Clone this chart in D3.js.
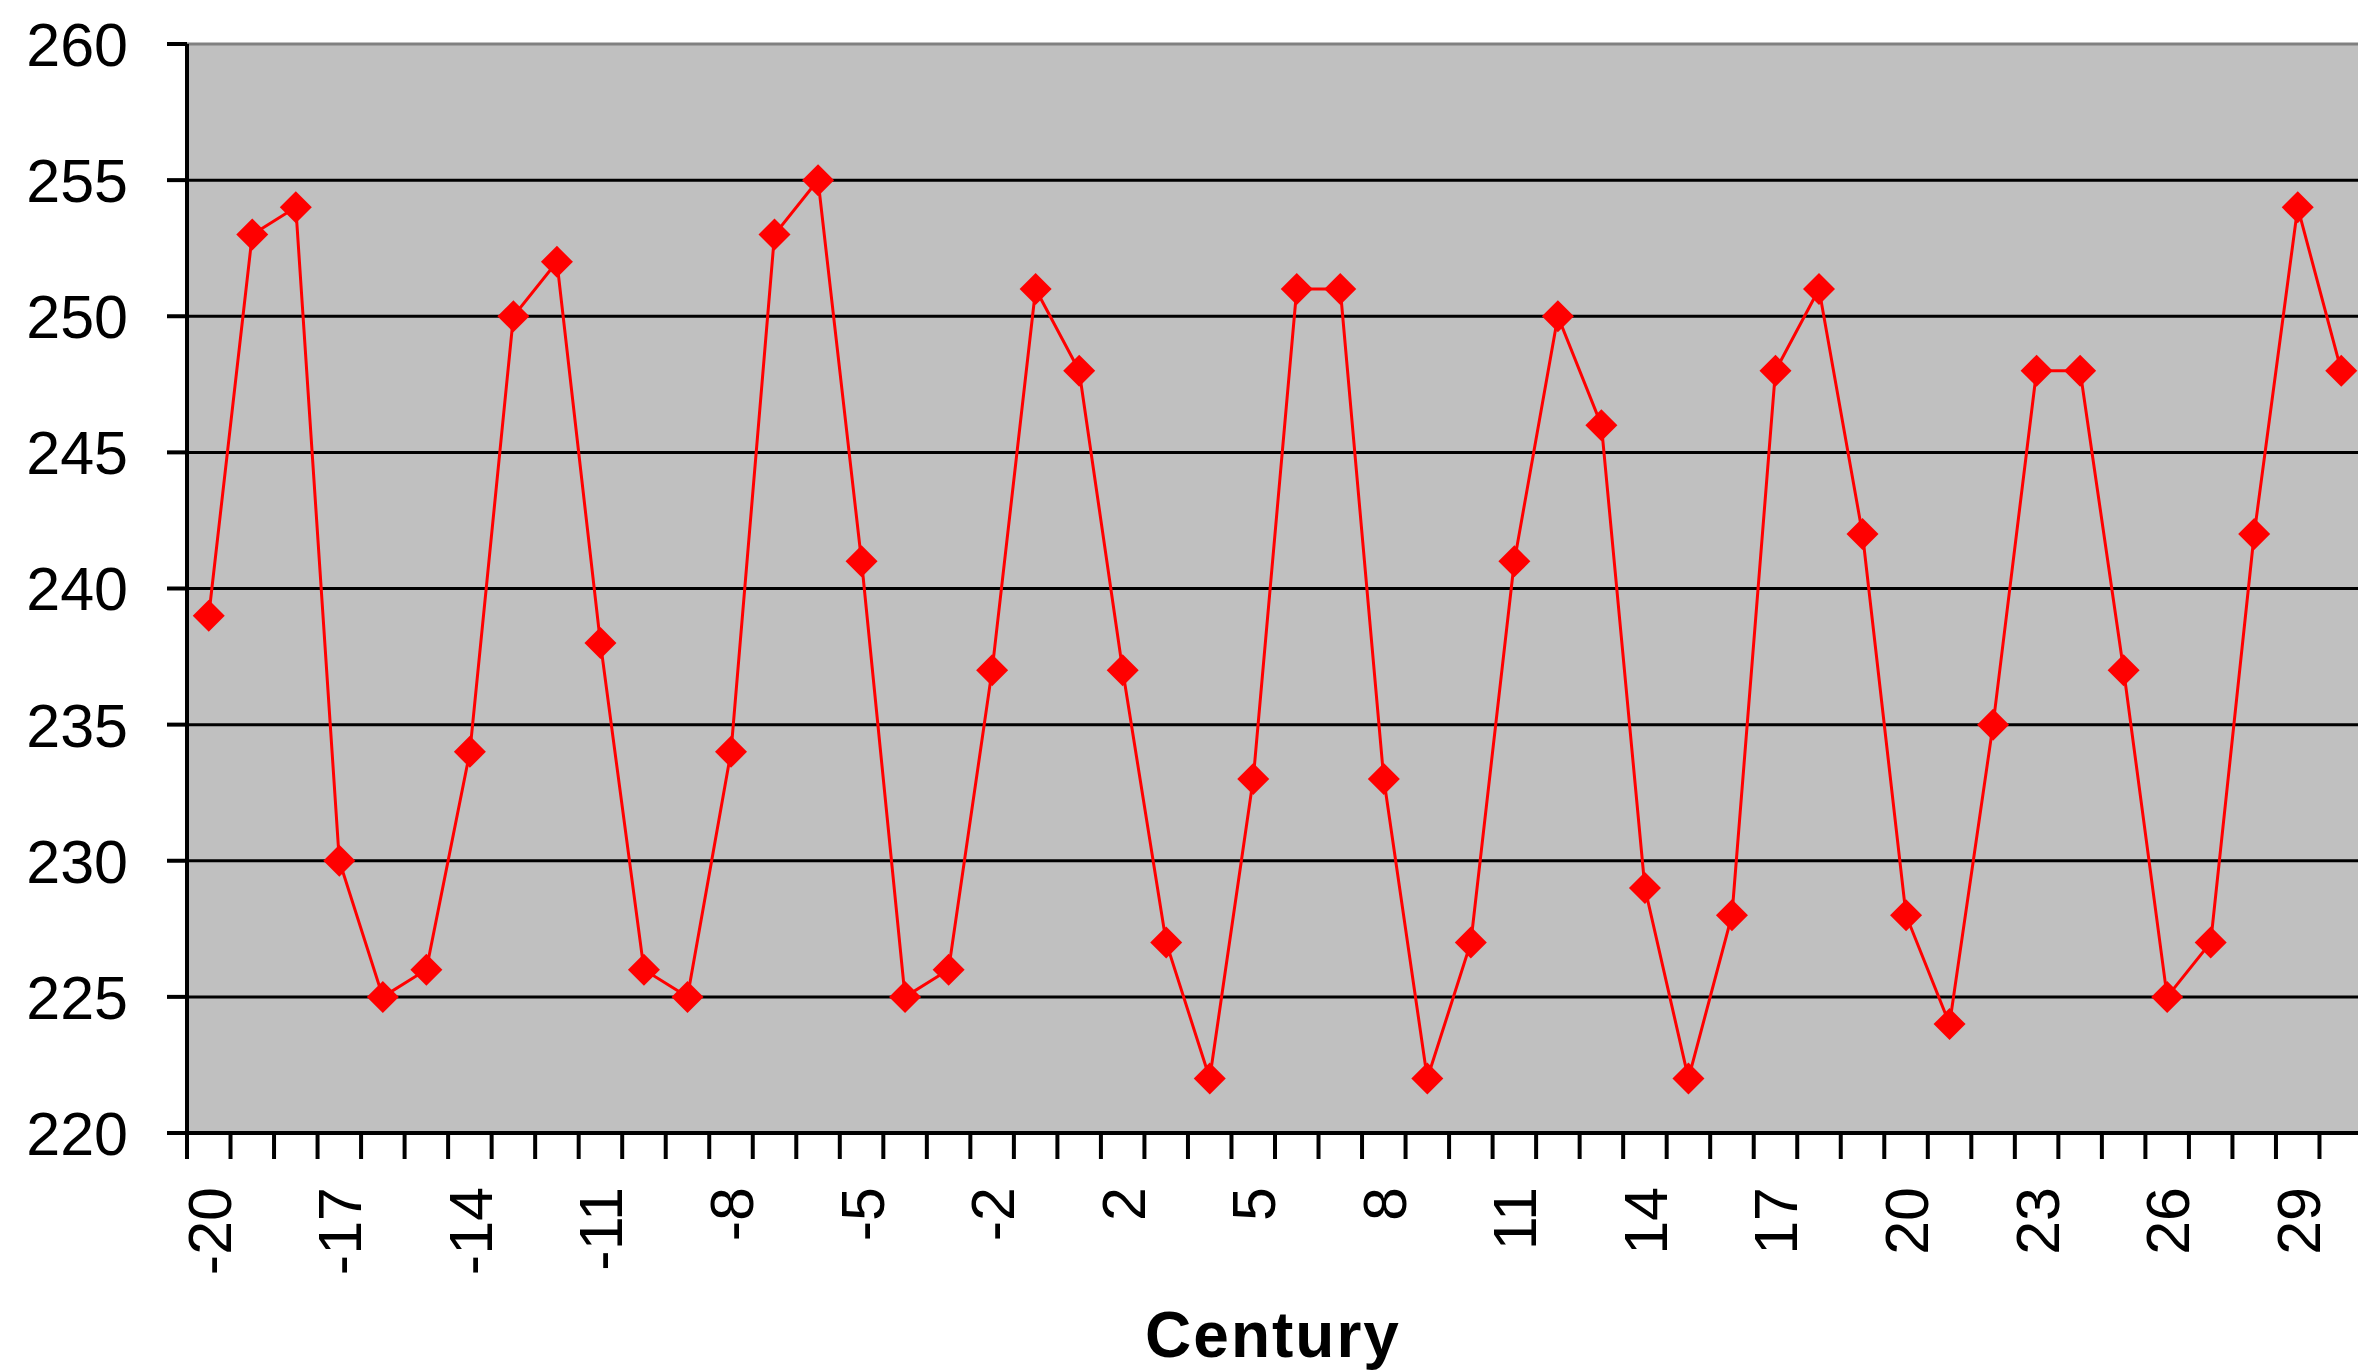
<!DOCTYPE html>
<html>
<head>
<meta charset="utf-8">
<script src="https://cdn.jsdelivr.net/npm/d3@7"></script>
<style>
	body { margin: 0; background: #fff; overflow: hidden; }
	text { font-family: "Liberation Sans", Arial, sans-serif; fill: #000; }
</style>
</head>
<body>
<div id="chart"></div>
<script>

var centuries = [-20,-19,-18,-17,-16,-15,-14,-13,-12,-11,-10,-9,-8,-7,-6,-5,-4,-3,-2,-1,
	1,2,3,4,5,6,7,8,9,10,11,12,13,14,15,16,17,18,19,20,21,22,23,24,25,26,27,28,29,30]

var values = [239,253,254,230,225,226,234,250,252,238,226,225,234,253,255,241,225,226,237,251,
	248,237,227,222,233,251,251,233,222,227,241,250,246,229,222,228,248,251,242,228,224,235,248,248,237,225,227,242,254,248]

var yTicks = [220,225,230,235,240,245,250,255,260]

var xLabelEvery = 3
var xTitle = 'Century'

var W = 2358
var H = 1371

// plot runs a few px past the right edge of the picture
var margin = {
	'top' : 44,
	'right' : -5,
	'bottom' : 238,
	'left' : 187
}

var svg = d3.select('#chart')
	.append('svg')
	.attr('width', W)
	.attr('height', H)

var xScale = d3.scaleBand()
	.domain(centuries)
	.range([margin.left, W - margin.right])
	.padding(0)

var yScale = d3.scaleLinear()
	.domain([220, 260])
	.range([H - margin.bottom, margin.top])

var plotL = margin.left
var plotR = W - margin.right
var plotT = margin.top
var plotB = H - margin.bottom

// plot background
svg.append('rect')
	.attr('x', plotL)
	.attr('y', plotT)
	.attr('width', plotR - plotL)
	.attr('height', plotB - plotT)
	.attr('fill', '#c0c0c0')
	.attr('stroke', '#808080')
	.attr('stroke-width', 3)

// gridlines
svg.append('g')
	.selectAll('line')
	.data(yTicks.filter(function(d) { return d > 220 && d < 260 }))
	.enter()
	.append('line')
	.attr('x1', plotL)
	.attr('x2', plotR)
	.attr('y1', function(d) { return yScale(d) })
	.attr('y2', function(d) { return yScale(d) })
	.attr('stroke', '#000')
	.attr('stroke-width', 3)

// y axis
var yAxis = svg.append('g')
yAxis.append('line')
	.attr('x1', plotL).attr('x2', plotL)
	.attr('y1', plotT).attr('y2', plotB)
	.attr('stroke', '#000')
	.attr('stroke-width', 4)

yAxis.selectAll('.ytick')
	.data(yTicks)
	.enter()
	.append('line')
	.attr('class', 'ytick')
	.attr('x1', plotL - 20)
	.attr('x2', plotL)
	.attr('y1', function(d) { return yScale(d) })
	.attr('y2', function(d) { return yScale(d) })
	.attr('stroke', '#000')
	.attr('stroke-width', 4)

yAxis.selectAll('text')
	.data(yTicks)
	.enter()
	.append('text')
	.attr('x', 128)
	.attr('y', function(d) { return yScale(d) })
	.attr('dy', '0.36em')
	.attr('text-anchor', 'end')
	.attr('font-size', 61)
	.text(function(d) { return d })

// x axis
var xAxis = svg.append('g')
xAxis.append('line')
	.attr('x1', plotL).attr('x2', plotR)
	.attr('y1', plotB).attr('y2', plotB)
	.attr('stroke', '#000')
	.attr('stroke-width', 4)

var bounds = centuries.map(function(d) { return xScale(d) })
bounds.push(xScale(centuries[centuries.length - 1]) + xScale.bandwidth())

xAxis.selectAll('.xtick')
	.data(bounds)
	.enter()
	.append('line')
	.attr('class', 'xtick')
	.attr('x1', function(d) { return d })
	.attr('x2', function(d) { return d })
	.attr('y1', plotB)
	.attr('y2', plotB + 26)
	.attr('stroke', '#000')
	.attr('stroke-width', 4)

xAxis.selectAll('text')
	.data(centuries.filter(function(d, i) { return i % xLabelEvery == 0 }))
	.enter()
	.append('text')
	.attr('transform', function(d) {
		var cx = xScale(d) + xScale.bandwidth() / 2
		return 'translate(' + cx + ',' + (plotB + 54) + ') rotate(-90)'
	})
	.attr('dy', '0.36em')
	.attr('text-anchor', 'end')
	.attr('font-size', 61)
	.text(function(d) { return d })

svg.append('text')
	.attr('x', 1273)
	.attr('y', 1357)
	.attr('text-anchor', 'middle')
	.attr('font-size', 64)
	.attr('font-weight', 'bold')
	.attr('letter-spacing', 2)
	.text(xTitle)

// series
var line = d3.line()
	.x(function(d, i) { return xScale(centuries[i]) + xScale.bandwidth() / 2 })
	.y(function(d) { return yScale(d) })

var clip = svg.append('clipPath').attr('id', 'plotclip')
clip.append('rect')
	.attr('x', plotL)
	.attr('y', 0)
	.attr('width', plotR - plotL)
	.attr('height', H)

var series = svg.append('g').attr('clip-path', 'url(#plotclip)')

series.append('path')
	.datum(values)
	.attr('d', line)
	.attr('fill', 'none')
	.attr('stroke', '#ff0000')
	.attr('stroke-width', 3)

var r = 16
series.selectAll('.marker')
	.data(values)
	.enter()
	.append('path')
	.attr('class', 'marker')
	.attr('d', 'M0,' + (-r) + 'L' + r + ',0L0,' + r + 'L' + (-r) + ',0Z')
	.attr('transform', function(d, i) {
		return 'translate(' + (xScale(centuries[i]) + xScale.bandwidth() / 2) + ',' + yScale(d) + ')'
	})
	.attr('fill', '#ff0000')

</script>
</body>
</html>
